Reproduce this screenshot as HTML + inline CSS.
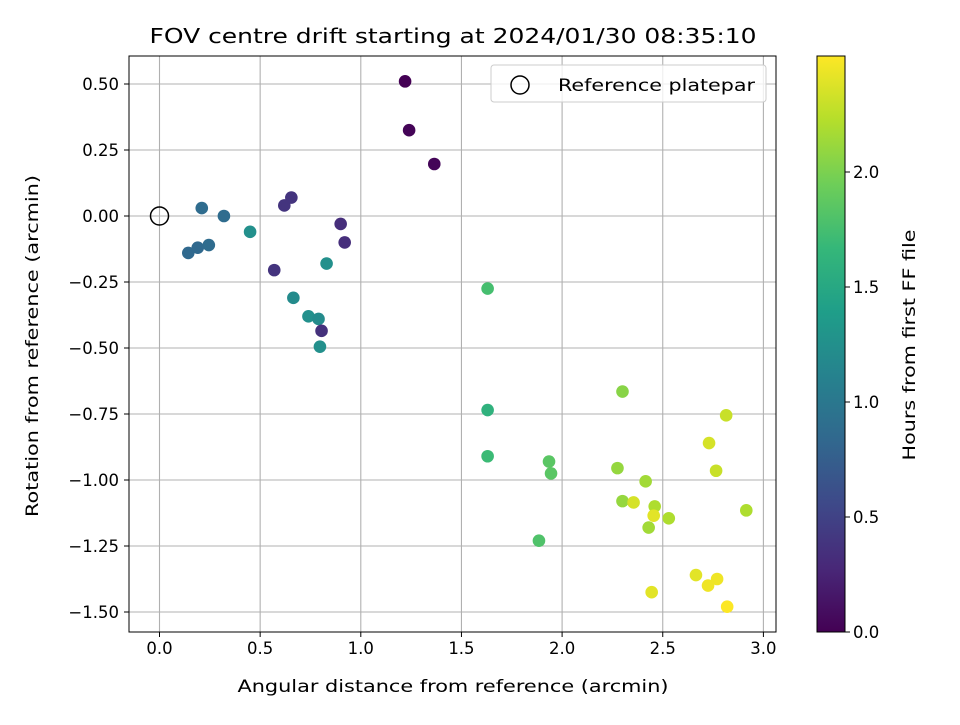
<!DOCTYPE html>
<html><head><meta charset="utf-8"><style>
body{margin:0;background:#fff;}
svg text{font-family:"DejaVu Sans","Liberation Sans",sans-serif;fill:#000;}
</style></head><body>
<svg id="chart" width="960" height="720" xmlns="http://www.w3.org/2000/svg">
<defs><linearGradient id="vir" x1="0" y1="1" x2="0" y2="0"></linearGradient></defs>
<rect width="960" height="720" fill="#fff"/>
<g id="grid"></g><g id="pts"></g><g id="axes"></g>
</svg>
<script>
const xs=[1.22,1.24,1.365,0.143,0.19,0.21,0.245,0.32,0.45,0.57,0.62,0.655,0.665,0.74,0.79,0.805,0.797,0.83,0.9,0.92,1.63,1.63,1.63,1.885,1.935,1.945,2.30,2.275,2.30,2.355,2.415,2.43,2.46,2.455,2.445,2.53,2.665,2.725,2.73,2.77,2.765,2.815,2.82,2.915];
const ys=[0.51,0.325,0.197,-0.14,-0.12,0.03,-0.11,0.0,-0.06,-0.205,0.04,0.07,-0.31,-0.38,-0.39,-0.435,-0.495,-0.18,-0.03,-0.10,-0.275,-0.735,-0.91,-1.23,-0.93,-0.975,-0.665,-0.955,-1.08,-1.085,-1.005,-1.18,-1.10,-1.135,-1.425,-1.145,-1.36,-1.40,-0.86,-1.375,-0.965,-0.755,-1.48,-1.115];
const hours=[0.0,0.02,0.03,0.85,0.85,0.88,0.88,0.88,1.25,0.38,0.38,0.38,1.2,1.25,1.2,0.35,1.25,1.25,0.33,0.33,1.75,1.6,1.7,1.8,1.85,1.85,2.05,2.1,2.1,2.35,2.15,2.15,2.2,2.4,2.4,2.2,2.4,2.45,2.35,2.45,2.3,2.3,2.5,2.2];
const xTicks=[0.0,0.5,1.0,1.5,2.0,2.5,3.0];
const yTicks=[0.5,0.25,0,-0.25,-0.5,-0.75,-1.0,-1.25,-1.5];
const cTicks=[0.0,0.5,1.0,1.5,2.0];
const L=129,R=776,T=56,B=632;
const X=v=>159.5+v*201.3, Y=v=>216-v*264;
const CMAX=2.504, CB=v=>632-v*230;
const vir=["#440154","#482878","#3e4989","#31688e","#26828e","#1f9e89","#35b779","#6ece58","#b5de2b","#fde725"];
function col(h){let t=Math.max(0,Math.min(1,h/CMAX))*(vir.length-1);let i=Math.min(vir.length-2,Math.floor(t)),f=t-i;
const a=vir[i],b=vir[i+1];const c=k=>Math.round(parseInt(a.substr(k,2),16)*(1-f)+parseInt(b.substr(k,2),16)*f);return `rgb(${c(1)},${c(3)},${c(5)})`;}
const NS="http://www.w3.org/2000/svg";
function mk(p,tag,at,txt){const e=document.createElementNS(NS,tag);for(const k in at)e.setAttribute(k,at[k]);if(txt!=null)e.textContent=txt;p.appendChild(e);return e;}
const grid=document.getElementById('grid'),pts=document.getElementById('pts'),axes=document.getElementById('axes');
const FS=16.5;
const fmt=v=>(v<0?"−":"")+Math.abs(v).toFixed(1);
const fmt2=v=>(v<0?"−":"")+Math.abs(v).toFixed(2);
xTicks.forEach(v=>{const x=X(v);
 let g=mk(grid,'line',{x1:x,x2:x,y1:T,y2:B,stroke:'#b0b0b0','stroke-width':1.1});
 
 
 mk(axes,'line',{x1:x,x2:x,y1:B,y2:B+5,stroke:'#000'});
 let t=mk(axes,'text',{x:x,y:B+22,'text-anchor':'middle','font-size':FS},fmt(v));
 
 });
yTicks.forEach(v=>{const y=Y(v);
 let g=mk(grid,'line',{x1:L,x2:R,y1:y,y2:y,stroke:'#b0b0b0','stroke-width':1.1});
 
 
 mk(axes,'line',{x1:L-5,x2:L,y1:y,y2:y,stroke:'#000'});
 let t=mk(axes,'text',{x:L-10,y:y+6,'text-anchor':'end','font-size':FS},fmt2(v));
 
 });
xs.forEach((v,i)=>{let c=mk(pts,'circle',{cx:X(v),cy:Y(ys[i]),r:6.3,fill:col(hours[i])});
 
 });
let rc=mk(pts,'circle',{cx:X(0),cy:Y(0),r:9,fill:'none',stroke:'#000','stroke-width':1.5});


let fr=mk(axes,'rect',{x:L,y:T,width:R-L,height:B-T,fill:'none',stroke:'#000','stroke-width':1});


let lg=mk(axes,'g',{});


mk(lg,'rect',{x:491,y:65,width:275,height:37,rx:3,fill:'#fff','fill-opacity':0.8,stroke:'#ccc'});
mk(lg,'circle',{cx:520,cy:85,r:9,fill:'none',stroke:'#000','stroke-width':1.5});
mk(lg,'text',{x:558,y:91,'font-size':FS,textLength:197,lengthAdjust:'spacingAndGlyphs'},'Reference platepar');
let tt=mk(axes,'text',{x:453,y:43,'text-anchor':'middle','font-size':20,textLength:607,lengthAdjust:'spacingAndGlyphs'},'FOV centre drift starting at 2024/01/30 08:35:10');


let xt=mk(axes,'text',{x:453,y:692,'text-anchor':'middle','font-size':FS,textLength:431,lengthAdjust:'spacingAndGlyphs'},'Angular distance from reference (arcmin)');


let yt=mk(axes,'text',{x:0,y:0,'text-anchor':'middle','font-size':FS,textLength:342,lengthAdjust:'spacingAndGlyphs',transform:'translate(38,346) rotate(-90)'},'Rotation from reference (arcmin)');


const gr=document.getElementById('vir');
vir.forEach((c,i)=>mk(gr,'stop',{offset:i/(vir.length-1),'stop-color':c}));
let cb=mk(axes,'rect',{x:817,y:T,width:28,height:B-T,fill:'url(#vir)',stroke:'#000'});


cTicks.forEach(v=>{const y=CB(v);
 mk(axes,'line',{x1:845,x2:850,y1:y,y2:y,stroke:'#000'});
 let t=mk(axes,'text',{x:853,y:y+6,'font-size':FS},v.toFixed(1));
 
 });
let ct=mk(axes,'text',{x:0,y:0,'text-anchor':'middle','font-size':FS,textLength:231,lengthAdjust:'spacingAndGlyphs',transform:'translate(915,345) rotate(-90)'},'Hours from first FF file');


</script>
</body></html>
